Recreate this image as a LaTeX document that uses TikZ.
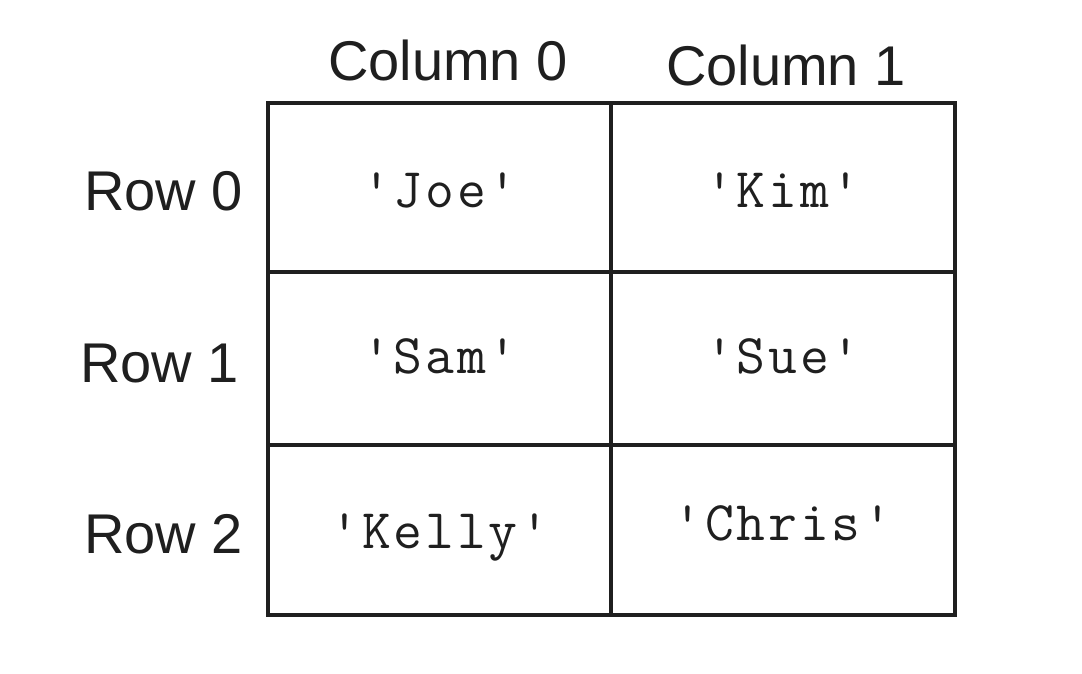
\documentclass[tikz,border=0pt]{standalone}
\usepackage{fontspec}
\setmainfont{Liberation Sans}
\setmonofont{Latin Modern Mono}[LetterSpace=5]
\begin{document}
\begin{tikzpicture}[x=0.75pt,y=-0.75pt,
  gridline/.style={line width=3pt,draw=black!88},
  headlbl/.style={font=\fontsize{42}{50}\selectfont,text=black!88,inner sep=0pt,anchor=base},
  rowlbl/.style={font=\fontsize{42}{50}\selectfont,text=black!88,inner sep=0pt,anchor=base east},
  celltxt/.style={font=\fontsize{42}{50}\selectfont\ttfamily,text=black!88,inner sep=0pt,anchor=base}]
\useasboundingbox (0,0) rectangle (1082,674);
% grid corners
\coordinate (tl) at (268,103);
\coordinate (br) at (955,615);
\coordinate (mt) at (611,103);
\coordinate (mb) at (611,615);
\coordinate (l1) at (268,272);
\coordinate (r1) at (955,272);
\coordinate (l2) at (268,445);
\coordinate (r2) at (955,445);
\draw[gridline] (tl) rectangle (br);
\draw[gridline] (mt) -- (mb);
\draw[gridline] (l1) -- (r1);
\draw[gridline] (l2) -- (r2);
% headers
\node[headlbl] (c0) at (448,80) {Column 0};
\node[headlbl] (c1) at (786,85) {Column 1};
\node[rowlbl] (r0) at (243,210) {Row 0};
\node[rowlbl] (rw1) at (239,382) {Row 1};
\node[rowlbl] (rw2) at (243,553) {Row 2};
% cells
\node[celltxt] (joe) at (440,207) {'Joe'};
\node[celltxt] (kim) at (783,207) {'Kim'};
\node[celltxt] (sam) at (440,373) {'Sam'};
\node[celltxt] (sue) at (783,373) {'Sue'};
\node[celltxt] (kelly) at (440,548) {'Kelly'};
\node[celltxt] (chris) at (783,540) {'Chris'};
\end{tikzpicture}
\end{document}
